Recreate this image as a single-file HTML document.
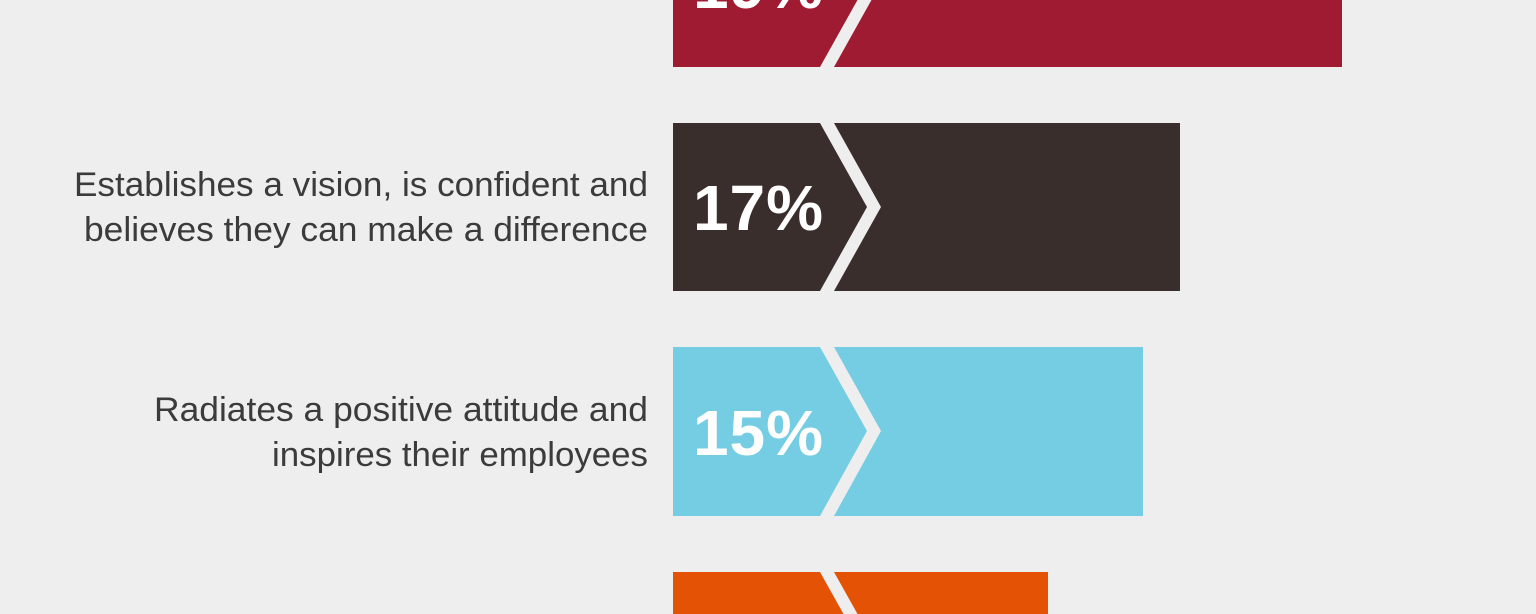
<!DOCTYPE html>
<html><head><meta charset="utf-8"><style>
html,body{margin:0;padding:0;background:#efeeef;overflow:hidden;width:1536px;height:614px}
svg{display:block;overflow:hidden}
text{font-family:"Liberation Sans",sans-serif}
</style></head><body>
<svg width="1536" height="614" viewBox="0 0 1536 614" xmlns="http://www.w3.org/2000/svg">
<rect width="1536" height="614" fill="#efeeef"/>
<g>
<polygon points="673,-101 820,-101 867,-17 820,67 673,67" fill="#9e1b32"/>
<polygon points="834,-101 1342,-101 1342,67 834,67 881,-17" fill="#9e1b32"/>
<text x="693" y="8" font-size="64" font-weight="bold" fill="#fff" textLength="130">19%</text>
</g>
<g>
<polygon points="673,123 820,123 867,207 820,291 673,291" fill="#3a2e2d"/>
<polygon points="834,123 1180,123 1180,291 834,291 881,207" fill="#3a2e2d"/>
<text x="693" y="230" font-size="64" font-weight="bold" fill="#fff" textLength="130">17%</text>
<text x="648" y="196" font-size="34" fill="#3b3b3b" text-anchor="end" textLength="574" lengthAdjust="spacingAndGlyphs">Establishes a vision, is confident and</text>
<text x="648" y="241" font-size="34" fill="#3b3b3b" text-anchor="end" textLength="564" lengthAdjust="spacingAndGlyphs">believes they can make a difference</text>
</g>
<g>
<polygon points="673,347 820,347 867,431 820,516 673,516" fill="#74cde3"/>
<polygon points="834,347 1143,347 1143,516 834,516 881,431" fill="#74cde3"/>
<text x="693" y="455" font-size="64" font-weight="bold" fill="#fff" textLength="130">15%</text>
<text x="648" y="421" font-size="34" fill="#3b3b3b" text-anchor="end" textLength="494" lengthAdjust="spacingAndGlyphs">Radiates a positive attitude and</text>
<text x="648" y="466" font-size="34" fill="#3b3b3b" text-anchor="end" textLength="376" lengthAdjust="spacingAndGlyphs">inspires their employees</text>
</g>
<g>
<polygon points="673,572 820,572 867,656 820,740 673,740" fill="#e35205"/>
<polygon points="834,572 1048,572 1048,740 834,740 881,656" fill="#e35205"/>
</g>
</svg>
</body></html>
